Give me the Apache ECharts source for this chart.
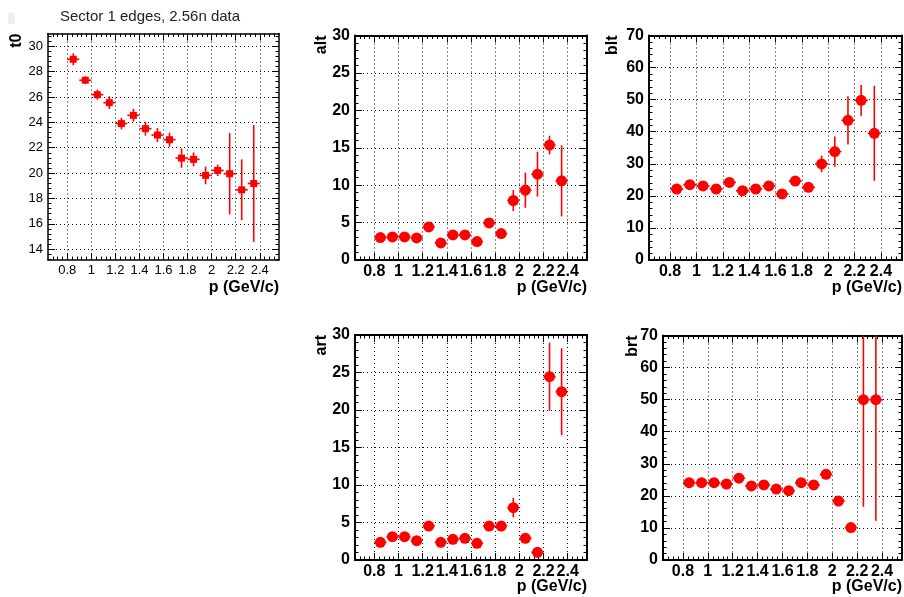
<!DOCTYPE html>
<html><head><meta charset="utf-8">
<script src="https://cdn.jsdelivr.net/npm/echarts@6/dist/echarts.min.js"></script>
<style>html,body{margin:0;padding:0;background:#fff}#c{width:904px;height:597px}</style>
</head><body><div id="c"></div>
<script>
// ---- data ----
const p    = [0.85,0.95,1.05,1.15,1.25,1.35,1.45,1.55,1.65,1.75,1.85,1.95,2.05,2.15,2.25,2.35];
const pErr = [0.05,0.05,0.05,0.05,0.05,0.05,0.05,0.05,0.05,0.05,0.05,0.05,0.05,0.05,0.05,0.05];

const t0    = [28.97,27.32,26.18,25.55,23.90,24.55,23.50,23.00,22.63,21.18,21.08,19.82,20.21,19.95,18.68,19.18];
const t0Err = [0.47,0.30,0.40,0.50,0.45,0.50,0.55,0.55,0.55,0.76,0.55,0.70,0.45,3.20,2.40,4.60];

const alt    = [3.00,3.08,3.08,2.95,4.42,2.28,3.35,3.35,2.46,4.96,3.53,7.95,9.33,11.47,15.36,10.58];
const altErr = [0.40,0.40,0.40,0.40,0.50,0.40,0.40,0.40,0.40,0.50,0.50,1.40,2.35,3.00,1.25,4.75];

const blt    = [22.14,23.50,23.08,22.14,24.20,21.60,22.14,23.08,20.60,24.60,22.66,29.94,33.80,43.55,49.80,39.50];
const bltErr = [1.0,1.0,1.0,1.0,1.2,1.0,1.0,1.0,1.0,1.2,1.2,2.6,4.7,7.5,4.8,14.8];

const art    = [2.36,3.11,3.11,2.58,4.53,2.36,2.76,2.89,2.22,4.53,4.53,6.98,2.89,1.02,24.44,22.44];
const artErr = [0.40,0.40,0.40,0.40,0.50,0.40,0.40,0.40,0.40,0.50,0.50,1.30,0.50,0.40,4.55,5.80];

const brt    = [24.1,24.1,24.1,23.7,25.5,23.1,23.4,22.1,21.6,24.1,23.4,26.7,18.4,10.1,50.0,50.0];
const brtErr = [1.0,1.0,1.0,1.0,1.2,1.0,1.0,1.0,1.0,1.2,1.2,1.5,1.2,1.0,33.4,37.8];

// ---- tick labels ----
const xTicks     = [0.8,1,1.2,1.4,1.6,1.8,2,2.2,2.4];
const t0Ticks    = [14,16,18,20,22,24,26,28,30];
const ampTicks   = [0,5,10,15,20,25,30];
const widthTicks = [0,10,20,30,40,50,60,70];

const titleText = 'Sector 1 edges, 2.56n data';
const xName = 'p (GeV/c)';

// ---- layout ----
const FF = '"Liberation Sans", Arial, Helvetica, sans-serif';
const X_MIN = 0.64, X_MAX = 2.56;

const panels = [
  {name:'t0',  y:t0,  e:t0Err,  yMin:13.15, yMax:31.0, yTicks:t0Ticks,    box:[48,33.5,279,260],  sym:'rect',   size:7,  bold:false, nameX:16.5, nameY:288},
  {name:'alt', y:alt, e:altErr, yMin:0,     yMax:30,   yTicks:ampTicks,   box:[355,35.5,587,260], sym:'circle', size:11, bold:true,  nameX:322,  nameY:288},
  {name:'blt', y:blt, e:bltErr, yMin:0,     yMax:70,   yTicks:widthTicks, box:[649,35.5,902,260], sym:'circle', size:11, bold:true,  nameX:613,  nameY:288},
  {name:'art', y:art, e:artErr, yMin:0,     yMax:30,   yTicks:ampTicks,   box:[355,335,587,560],  sym:'circle', size:11, bold:true,  nameX:322,  nameY:587},
  {name:'brt', y:brt, e:brtErr, yMin:0,     yMax:70,   yTicks:widthTicks, box:[663,335.5,902,560],sym:'circle', size:11, bold:true,  nameX:633,  nameY:587}
];

function minorTicks(min, max, majors) {
  const step = (majors[1] - majors[0]) / 5;
  const out = [];
  const r = v => Math.round(v * 1e6) / 1e6;
  for (let v = majors[0] - step; v > min + 1e-9; v -= step) out.push(r(v));
  for (let k = 0; k < majors.length; k++) {
    for (let j = 1; j < 5; j++) {
      const v = r(majors[k] + j * step);
      if (v < max - 1e-9) out.push(v);
    }
  }
  return out.filter(v => !majors.some(m => Math.abs(m - v) < 1e-6));
}

const grids = [], xAxes = [], yAxes = [], series = [], graphics = [];
const xMinor = minorTicks(X_MIN, X_MAX, xTicks);

panels.forEach((P, i) => {
  const [l, t, r, b] = P.box;
  grids.push({left:l, top:t, width:r-l, height:b-t, outerBoundsMode:'none', containLabel:false});
  const lw = P.bold ? 2 : 1.5;
  const lab = {fontSize: P.bold ? 16 : 13, fontWeight: P.bold ? 'bold' : 'normal', color:'#000', fontFamily:FF};
  const frameLine = {show:true, onZero:false, lineStyle:{color:'#000', width:lw}};
  const noLine = {show:false, onZero:false};
  const dotted = {show:true, lineStyle:{color:'#111', width:1, type:[1,3]}};
  const yMinor = minorTicks(P.yMin, P.yMax, P.yTicks);
  const base = {type:'value', gridIndex:i, min:X_MIN, max:X_MAX, silent:true};
  xAxes.push(Object.assign({}, base, {position:'bottom', axisLine:frameLine,
    axisTick:{show:true, inside:true, length:7, customValues:xTicks, lineStyle:{color:'#000', width:1}},
    axisLabel:Object.assign({show:true, customValues:xTicks, margin:4, interval:0, hideOverlap:false}, lab),
    splitLine:dotted}));
  xAxes.push(Object.assign({}, base, {position:'bottom', axisLine:noLine,
    axisTick:{show:true, inside:true, length:3.5, customValues:xMinor, lineStyle:{color:'#000', width:1}},
    axisLabel:{show:false}, splitLine:{show:false}}));
  xAxes.push(Object.assign({}, base, {position:'top', axisLine:frameLine,
    axisTick:{show:true, inside:true, length:7, customValues:xTicks, lineStyle:{color:'#000', width:1}},
    axisLabel:{show:false}, splitLine:{show:false}}));
  xAxes.push(Object.assign({}, base, {position:'top', axisLine:noLine,
    axisTick:{show:true, inside:true, length:3.5, customValues:xMinor, lineStyle:{color:'#000', width:1}},
    axisLabel:{show:false}, splitLine:{show:false}}));

  const ybase = {type:'value', gridIndex:i, min:P.yMin, max:P.yMax, silent:true};
  yAxes.push(Object.assign({}, ybase, {position:'left', axisLine:frameLine,
    axisTick:{show:true, inside:true, length:7, customValues:P.yTicks, lineStyle:{color:'#000', width:1}},
    axisLabel:Object.assign({show:true, customValues:P.yTicks, margin:5, interval:0}, lab),
    splitLine:dotted}));
  yAxes.push(Object.assign({}, ybase, {position:'left', axisLine:noLine,
    axisTick:{show:true, inside:true, length:3.5, customValues:yMinor, lineStyle:{color:'#000', width:1}},
    axisLabel:{show:false}, splitLine:{show:false}}));
  yAxes.push(Object.assign({}, ybase, {position:'right', axisLine:frameLine,
    axisTick:{show:true, inside:true, length:7, customValues:P.yTicks, lineStyle:{color:'#000', width:1}},
    axisLabel:{show:false}, splitLine:{show:false}}));
  yAxes.push(Object.assign({}, ybase, {position:'right', axisLine:noLine,
    axisTick:{show:true, inside:true, length:3.5, customValues:yMinor, lineStyle:{color:'#000', width:1}},
    axisLabel:{show:false}, splitLine:{show:false}}));

  const yMin = P.yMin, yMax = P.yMax;
  series.push({
    type:'custom', xAxisIndex:4*i, yAxisIndex:4*i, silent:true, z:3,
    data: p.map((x, k) => [x, P.y[k], pErr[k], P.e[k]]),
    encode:{x:0, y:1},
    renderItem: function (params, api) {
      const x = api.value(0), y = api.value(1), ex = api.value(2), ey = api.value(3);
      const lo = Math.max(y - ey, yMin), hi = Math.min(y + ey, yMax);
      const a = api.coord([x, lo]), c = api.coord([x, hi]);
      const L = api.coord([x - ex, y]), R = api.coord([x + ex, y]);
      const st = {stroke:'#ff0000', lineWidth:1.6};
      return {type:'group', children:[
        {type:'line', shape:{x1:a[0], y1:a[1], x2:c[0], y2:c[1]}, style:st},
        {type:'line', shape:{x1:L[0], y1:L[1], x2:R[0], y2:R[1]}, style:st}
      ]};
    }
  });
  series.push({
    type:'scatter', xAxisIndex:4*i, yAxisIndex:4*i, silent:true, z:4,
    symbol:P.sym, symbolSize:P.size,
    itemStyle:{color:'#ff0000', opacity:1, borderWidth:0},
    emphasis:{disabled:true},
    data: p.map((x, k) => [x, P.y[k]])
  });

  graphics.push({type:'text', x:P.nameX, y:t, rotation:Math.PI/2,
    style:{text:P.name, font:'bold 16px ' + FF, fill:'#000', align:'right', verticalAlign:'middle', textAlign:'right', textVerticalAlign:'middle'}});
  graphics.push({type:'text', x:r, y:P.nameY,
    style:{text:xName, font:'bold 16px ' + FF, fill:'#000', align:'right', verticalAlign:'middle', textAlign:'right', textVerticalAlign:'middle'}});
});

graphics.push({type:'rect', shape:{x:8, y:12.5, width:7, height:11.5}, style:{fill:'#eeeeee'}});
graphics.push({type:'text', x:60, y:16.5,
  style:{text:titleText, font:'15px ' + FF, fill:'#222', align:'left', verticalAlign:'middle', textAlign:'left', textVerticalAlign:'middle'}});

const chart = echarts.init(document.getElementById('c'), null, {renderer:'canvas'});
chart.setOption({
  animation:false,
  backgroundColor:'#fff',
  grid:grids, xAxis:xAxes, yAxis:yAxes, series:series, graphic:graphics
});
</script>
</body></html>
